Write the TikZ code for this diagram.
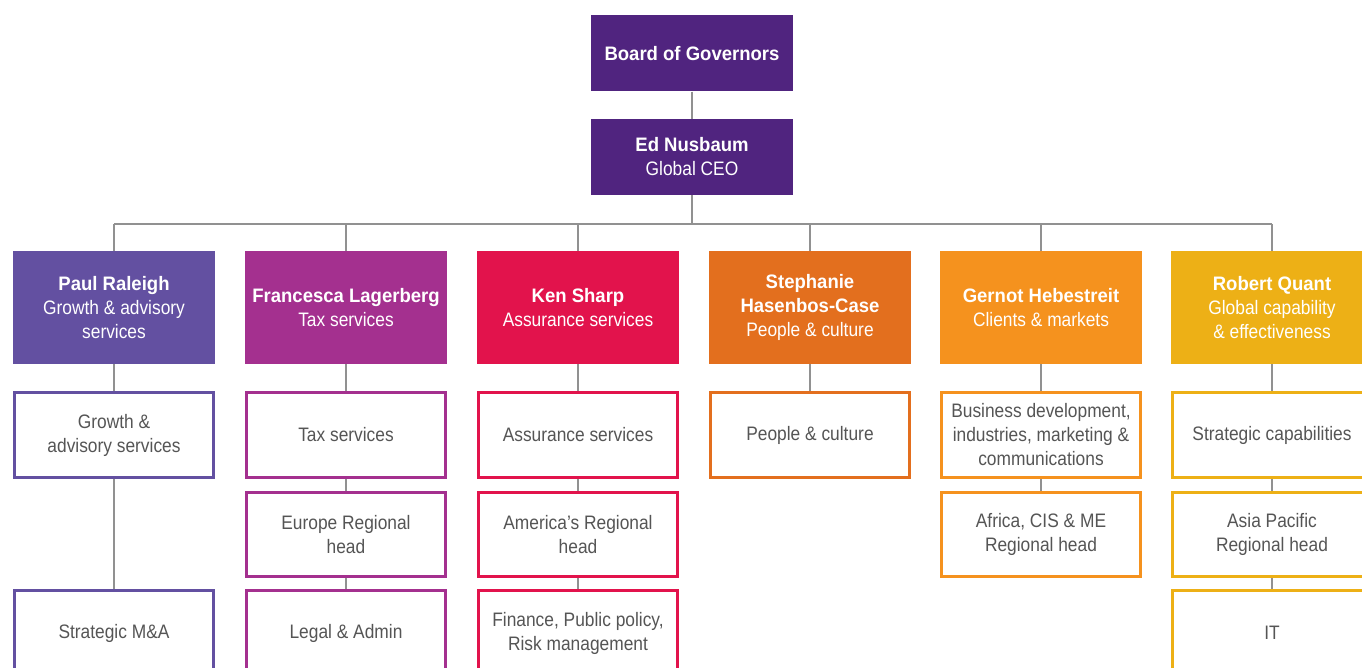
\documentclass[tikz,border=0pt]{standalone}
\usepackage{fontspec}
\setmainfont{Liberation Sans}
\newfontfamily\lt{Liberation Sans}[FakeStretch=0.89]
\newfontfamily\bd{Liberation Sans}[FakeStretch=0.95]
\definecolor{cboard}{RGB}{80,36,127}
\definecolor{cone}{RGB}{99,80,161}
\definecolor{ctwo}{RGB}{164,48,143}
\definecolor{cthree}{RGB}{226,19,76}
\definecolor{cfour}{RGB}{227,111,30}
\definecolor{cfive}{RGB}{245,146,30}
\definecolor{csix}{RGB}{237,176,22}
\definecolor{txtgray}{RGB}{85,85,85}
\definecolor{linegray}{RGB}{145,145,145}
\newcommand{\nm}[1]{{\bd\bfseries #1}}
\tikzset{
  topbox/.style={fill=cboard, minimum width=202pt, minimum height=76pt, inner sep=0pt,
    align=center, text=white, font=\lt\fontsize{19.5}{24}\selectfont},
  headbox/.style={fill=#1, minimum width=202pt, minimum height=113pt, inner sep=0pt,
    align=center, text=white, font=\lt\fontsize{19.5}{24}\selectfont},
  subbox/.style={draw=#1, line width=3pt, fill=white, minimum width=199pt, minimum height=85pt,
    inner sep=0pt, align=center, text=txtgray, font=\lt\fontsize{19.5}{24}\selectfont},
  link/.style={draw=linegray, line width=2.6pt}
}
\begin{document}
\begin{tikzpicture}[x=1pt,y=-1pt]
\useasboundingbox (0,0) rectangle (1362,668);
\clip (0,0) rectangle (1362,668);
\fill[white] (0,0) rectangle (1362,668);
\coordinate (busy) at (0,224);

\node[topbox] (board) at (692,53.5) {\nm{Board of Governors}};
\node[topbox] (ed) at (692,157) {\nm{Ed Nusbaum}\\Global CEO};

\node[headbox=cone]   (h1) at (114,307.5)  {\nm{Paul Raleigh}\\Growth \& advisory\\services};
\node[headbox=ctwo]   (h2) at (346,307.5)  {\nm{Francesca Lagerberg}\\Tax services};
\node[headbox=cthree] (h3) at (578,307.5)  {\nm{Ken Sharp}\\Assurance services};
\node[headbox=cfour]  (h4) at (810,307.5)  {\nm{Stephanie}\\\nm{Hasenbos-Case}\\People \& culture};
\node[headbox=cfive]  (h5) at (1041,307.5) {\nm{Gernot Hebestreit}\\Clients \& markets};
\node[headbox=csix]   (h6) at (1272,307.5) {\nm{Robert Quant}\\Global capability\\\& effectiveness};

% row 2
\node[subbox=cone]   (a1) at (114,435)  {Growth \&\\advisory services};
\node[subbox=ctwo]   (a2) at (346,435)  {Tax services};
\node[subbox=cthree] (a3) at (578,435)  {Assurance services};
\node[subbox=cfour]  (a4) at (810,435)  {People \& culture};
\node[subbox=cfive]  (a5) at (1041,435) {Business development,\\industries, marketing \&\\communications};
\node[subbox=csix]   (a6) at (1272,435) {Strategic capabilities};

% row 3
\node[subbox=ctwo, minimum height=84pt]   (b2) at (346,534.5)  {Europe Regional\\head};
\node[subbox=cthree, minimum height=84pt] (b3) at (578,534.5)  {America’s Regional\\head};
\node[subbox=cfive, minimum height=84pt]  (b5) at (1041,534.5) {Africa, CIS \& ME\\Regional head};
\node[subbox=csix, minimum height=84pt]   (b6) at (1272,534.5) {Asia Pacific\\Regional head};

% row 4
\node[subbox=cone]   (c1) at (114,633)  {Strategic M\&A};
\node[subbox=ctwo]   (c2) at (346,633)  {Legal \& Admin};
\node[subbox=cthree] (c3) at (578,633)  {Finance, Public policy,\\Risk management};
\node[subbox=csix]   (c6) at (1272,633) {IT};

% connectors
\draw[link] (board.south) -- (ed.north);
\draw[link] (ed.south) -- (ed.south |- busy);
\draw[link] (h1.north |- busy) -- (h6.north |- busy);
\foreach \h in {h1,h2,h3,h4,h5,h6} {
  \draw[link] (\h.north) -- (\h.north |- busy);
}
\draw[link] (h1.south) -- (a1.north);
\draw[link] (h2.south) -- (a2.north);
\draw[link] (h3.south) -- (a3.north);
\draw[link] (h4.south) -- (a4.north);
\draw[link] (h5.south) -- (a5.north);
\draw[link] (h6.south) -- (a6.north);
\draw[link] (a1.south) -- (c1.north);
\draw[link] (a2.south) -- (b2.north);
\draw[link] (b2.south) -- (c2.north);
\draw[link] (a3.south) -- (b3.north);
\draw[link] (b3.south) -- (c3.north);
\draw[link] (a5.south) -- (b5.north);
\draw[link] (a6.south) -- (b6.north);
\draw[link] (b6.south) -- (c6.north);
\end{tikzpicture}
\end{document}
